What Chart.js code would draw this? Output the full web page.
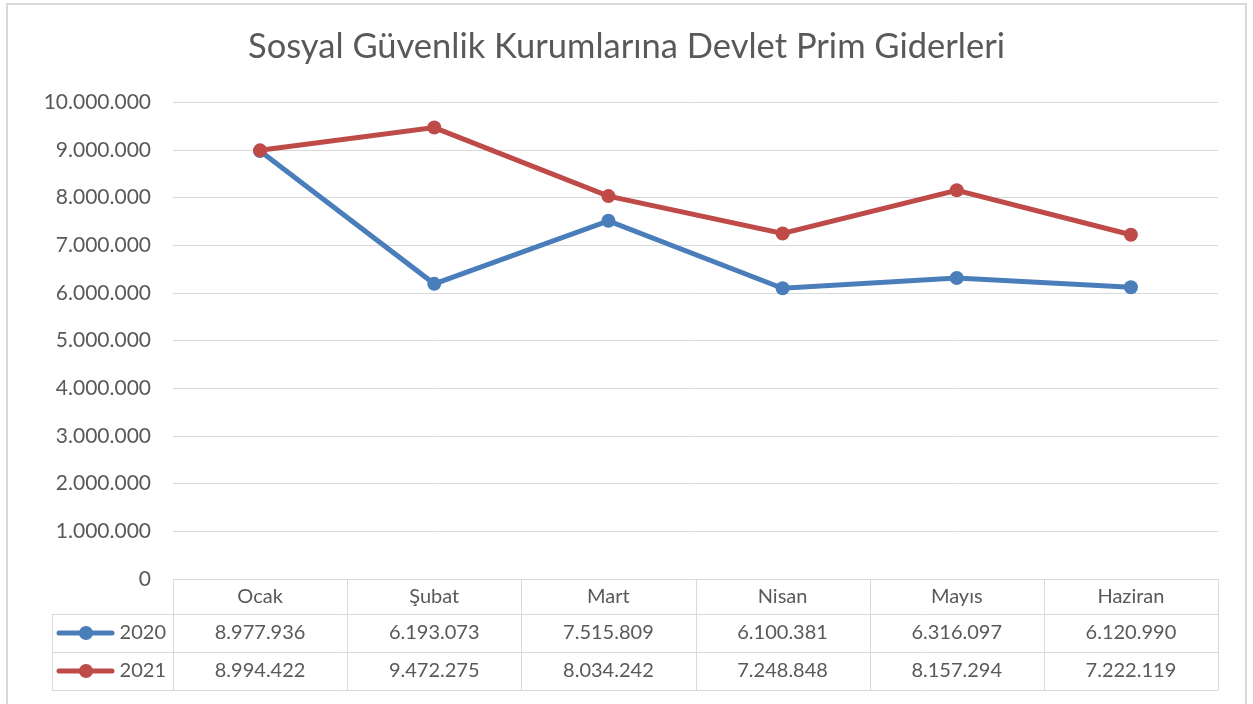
<!DOCTYPE html>
<html>
<head>
<meta charset="utf-8">
<script src="https://cdn.jsdelivr.net/npm/chart.js@4"></script>
<style>
  html, body { margin: 0; padding: 0; background: #fff; }
  #wrap { position: absolute; left: 0; top: 0; width: 1253px; height: 704px; }
</style>
</head>
<body>
<div id="wrap"><canvas id="primChart"></canvas></div>
<script>
const months = ['Ocak', 'Şubat', 'Mart', 'Nisan', 'Mayıs', 'Haziran'];
const years = ['2020', '2021'];
const values2020 = [8977936, 6193073, 7515809, 6100381, 6316097, 6120990];
const values2021 = [8994422, 9472275, 8034242, 7248848, 8157294, 7222119];
const yTicks = { min: 0, max: 10000000, step: 1000000 };

const textColor = '#595959';
const gridColor = '#d9d9d9';
const fontFamily = 'Lato, "Open Sans", sans-serif';

// turkish style thousands separator
function fmt(v) {
  return String(Math.round(v)).replace(/\B(?=(\d{3})+(?!\d))/g, '.');
}

// frame + data table under the plot, cells come from the arrays above
const dataTable = {
  id: 'dataTable',
  beforeDraw(chart) {
    const ctx = chart.ctx;
    ctx.save();
    ctx.fillStyle = gridColor;
    ctx.fillRect(6, 3, 1241, 2);
    ctx.fillRect(6, 3, 2, 701);
    ctx.fillRect(1245, 3, 2, 701);
    ctx.restore();
  },
  afterDraw(chart) {
    const ctx = chart.ctx;
    const area = chart.chartArea;
    const n = months.length;
    const w = (area.right - area.left) / n;
    const rows = [area.bottom, area.bottom + 35, area.bottom + 73, area.bottom + 111];
    const keyLeft = 52;
    const sets = chart.data.datasets;

    ctx.save();
    ctx.strokeStyle = gridColor;
    ctx.lineWidth = 1;
    ctx.beginPath();
    // horizontal rules
    ctx.moveTo(area.left, rows[0] + 0.5); ctx.lineTo(area.right, rows[0] + 0.5);
    for (let r = 1; r < rows.length; r++) {
      ctx.moveTo(keyLeft, rows[r] + 0.5); ctx.lineTo(area.right, rows[r] + 0.5);
    }
    // vertical rules
    ctx.moveTo(keyLeft + 0.5, rows[1]); ctx.lineTo(keyLeft + 0.5, rows[3]);
    for (let i = 0; i <= n; i++) {
      const x = Math.round(area.left + i * w) + 0.5;
      ctx.moveTo(x, rows[0]); ctx.lineTo(x, rows[3]);
    }
    ctx.stroke();

    ctx.fillStyle = textColor;
    ctx.font = '20px ' + fontFamily;
    ctx.textAlign = 'center';
    ctx.textBaseline = 'middle';
    months.forEach((m, i) => {
      ctx.fillText(m, area.left + (i + 0.5) * w, (rows[0] + rows[1]) / 2);
    });
    sets.forEach((ds, r) => {
      const yMid = (rows[r + 1] + rows[r + 2]) / 2;
      ds.data.forEach((v, i) => {
        ctx.fillText(fmt(v), area.left + (i + 0.5) * w, yMid);
      });
      // legend key
      ctx.strokeStyle = ds.borderColor;
      ctx.lineWidth = 5;
      ctx.lineCap = 'round';
      ctx.beginPath();
      ctx.moveTo(59, yMid); ctx.lineTo(112, yMid);
      ctx.stroke();
      ctx.fillStyle = ds.borderColor;
      ctx.beginPath();
      ctx.arc(86, yMid, 7, 0, Math.PI * 2);
      ctx.fill();
      ctx.fillStyle = textColor;
      ctx.textAlign = 'right';
      ctx.fillText(ds.label, area.left - 7, yMid);
      ctx.textAlign = 'center';
    });
    ctx.restore();
  }
};

const chartData = {
  labels: months,
  datasets: [
    {
      label: years[0],
      data: values2020,
      borderColor: '#4A7EBB',
      backgroundColor: '#4A7EBB',
      borderWidth: 5,
      pointRadius: 7,
      pointBorderWidth: 0,
      tension: 0,
      order: 1
    },
    {
      label: years[1],
      data: values2021,
      borderColor: '#BE4B48',
      backgroundColor: '#BE4B48',
      borderWidth: 5,
      pointRadius: 7,
      pointBorderWidth: 0,
      tension: 0,
      order: 0
    }
  ]
};

const config = {
  type: 'line',
  data: chartData,
  plugins: [dataTable],
  options: {
    responsive: true,
    maintainAspectRatio: false,
    animation: false,
    layout: { padding: 0 },
    plugins: {
      legend: { display: false },
      tooltip: { enabled: false },
      title: {
        display: true,
        text: 'Sosyal Güvenlik Kurumlarına Devlet Prim Giderleri',
        color: textColor,
        font: { family: fontFamily, size: 34.5, weight: 'normal', lineHeight: 1.2 },
        padding: { top: 26, bottom: 35 }
      }
    },
    scales: {
      x: {
        offset: true,
        grid: { display: false, drawTicks: false },
        border: { display: false },
        ticks: { display: false },
        afterFit(scale) { scale.height = 125; }
      },
      y: {
        min: yTicks.min,
        max: yTicks.max,
        ticks: {
          stepSize: yTicks.step,
          color: textColor,
          padding: 22,
          font: { family: fontFamily, size: 21 },
          callback: (v) => fmt(v)
        },
        grid: { color: gridColor, lineWidth: 1, drawTicks: false },
        border: { display: false },
        afterFit(scale) { scale.width = 173; }
      },
      // empty right strip so the title stays centred on the whole canvas
      yRight: {
        position: 'right',
        display: true,
        grid: { display: false, drawTicks: false },
        border: { display: false },
        ticks: { display: false },
        afterFit(scale) { scale.width = 35; }
      }
    }
  }
};

const primChart = new Chart(document.getElementById('primChart'), config);
</script>
</body>
</html>
